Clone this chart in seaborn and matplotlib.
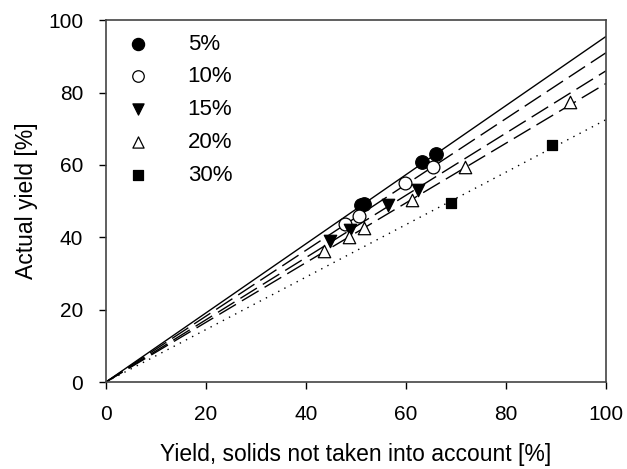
import matplotlib
matplotlib.use("Agg")
import matplotlib.pyplot as plt
import seaborn as sns

# solids content series
labels = ["5%", "10%", "15%", "20%", "30%"]

x_5 = [51.0, 51.6, 63.3, 66.0]
y_5 = [48.8, 49.3, 60.7, 62.9]
x_10 = [47.8, 50.6, 59.8, 65.5]
y_10 = [43.7, 46.0, 55.0, 59.4]
x_15 = [44.9, 48.9, 56.5, 62.5]
y_15 = [38.9, 42.1, 49.0, 53.2]
x_20 = [43.6, 48.6, 51.7, 61.3, 71.9, 92.8]
y_20 = [36.1, 40.0, 42.6, 50.2, 59.5, 77.4]
x_30 = [69.0, 89.3]
y_30 = [49.6, 65.6]

# slopes of the theoretical lines through the origin
slopes = [0.955, 0.91, 0.86, 0.825, 0.725]
line_x = [0, 100]

sns.set_style("ticks")
plt.rcParams["font.family"] = ["Liberation Sans", "DejaVu Sans"]
plt.rcParams.update({"text.color": "black", "axes.labelcolor": "black",
                     "xtick.color": "black", "ytick.color": "black"})

fig = plt.figure(figsize=(6.27, 4.69), dpi=100)
ax = fig.add_axes([0.169, 0.1855, 0.7975, 0.7715])

line_styles = [(None, None), (14, 5), (14, 5), (14, 5), (1, 4)]
for slope, dash in zip(slopes, line_styles):
    line_y = [v * slope for v in line_x]
    sns.lineplot(x=line_x, y=line_y, color="black", linewidth=1.0, ax=ax)
    if dash[0] is not None:
        ax.lines[-1].set_dashes(dash)

series = [(x_5, y_5), (x_10, y_10), (x_15, y_15), (x_20, y_20), (x_30, y_30)]
markers = ["o", "o", "v", "^", "s"]
faces = ["black", "white", "black", "white", "black"]
sizes = [95, 85, 80, 80, 60]
for (xs, ys), lab, m, fc, s in zip(series, labels, markers, faces, sizes):
    sns.scatterplot(x=xs, y=ys, marker=m, s=s, facecolor=fc, edgecolor="black",
                    linewidth=0.9, label=lab, ax=ax, zorder=3)

ax.set_xlim(0, 100)
ax.set_ylim(0, 100)
ax.set_xticks([0, 20, 40, 60, 80, 100])
ax.set_yticks([0, 20, 40, 60, 80, 100])
ax.tick_params(direction="out", length=5, width=1, labelsize=15, colors="black",
               pad=11.5)
for sp in ax.spines.values():
    sp.set_visible(True)
    sp.set_color("#444444")
    sp.set_linewidth(1.2)

ax.set_xlabel("Yield, solids not taken into account [%]", fontsize=16.5, labelpad=14)
ax.set_ylabel("Actual yield [%]", fontsize=16.5, labelpad=7)

ax.legend(loc="upper left", frameon=False, fontsize=16, handlelength=1.0,
          handletextpad=1.73, labelspacing=0.53, borderaxespad=0.2,
          markerscale=0.9, bbox_to_anchor=(0.0154, 1.0))

fig.savefig("out.png", dpi=100)
